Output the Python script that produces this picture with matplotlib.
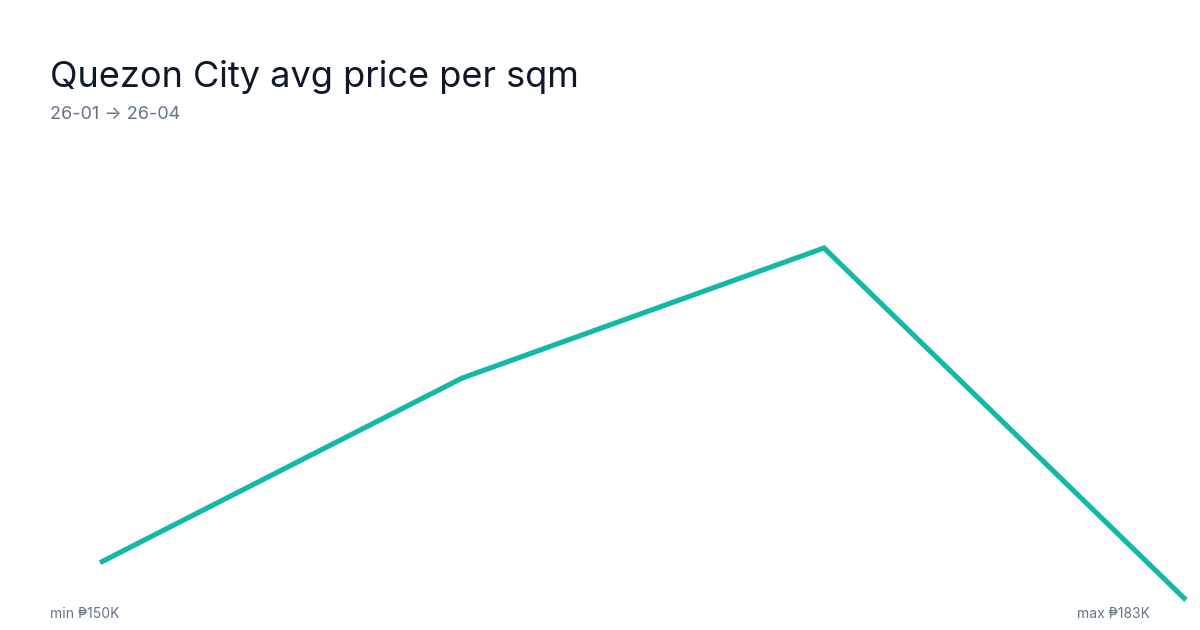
import matplotlib.pyplot as plt

# Data
months = ["26-01", "26-02", "26-03", "26-04"]
prices = [153.5, 170.8, 183.0, 150.0]  # thousand PHP per sqm
price_min = 150
price_max = 183

plt.rcParams['font.family'] = ['Inter', 'DejaVu Sans']

fig = plt.figure(figsize=(12, 6.3), dpi=100)
fig.patch.set_facecolor("white")

# axes placed so the data range fills the drawing area
ax = fig.add_axes([100 / 1200, 30 / 630, 1086 / 1200, 352 / 630])
ax.plot(range(len(months)), prices, color="#14b8a6", linewidth=3.7,
        solid_capstyle="butt", solid_joinstyle="miter", clip_on=False)
ax.set_xlim(0, len(months) - 1)
ax.set_ylim(price_min, price_max)
ax.axis("off")

# Title and subtitle
fig.text(50 / 1200, 1 - 87 / 630, "Quezon City avg price per sqm",
         fontsize=26, color="#0f172a", ha="left", va="baseline")
fig.text(50 / 1200, 1 - 119 / 630, f"{months[0]} → {months[-1]}",
         fontsize=13, color="#64748b", ha="left", va="baseline")

# min / max footer labels
fig.text(50 / 1200, 1 - 618 / 630, f"min ₱{price_min}K",
         fontsize=10, color="#64748b", ha="left", va="baseline")
fig.text(1150 / 1200, 1 - 618 / 630, f"max ₱{price_max}K",
         fontsize=10, color="#64748b", ha="right", va="baseline")

fig.savefig("out.png", dpi=100)
